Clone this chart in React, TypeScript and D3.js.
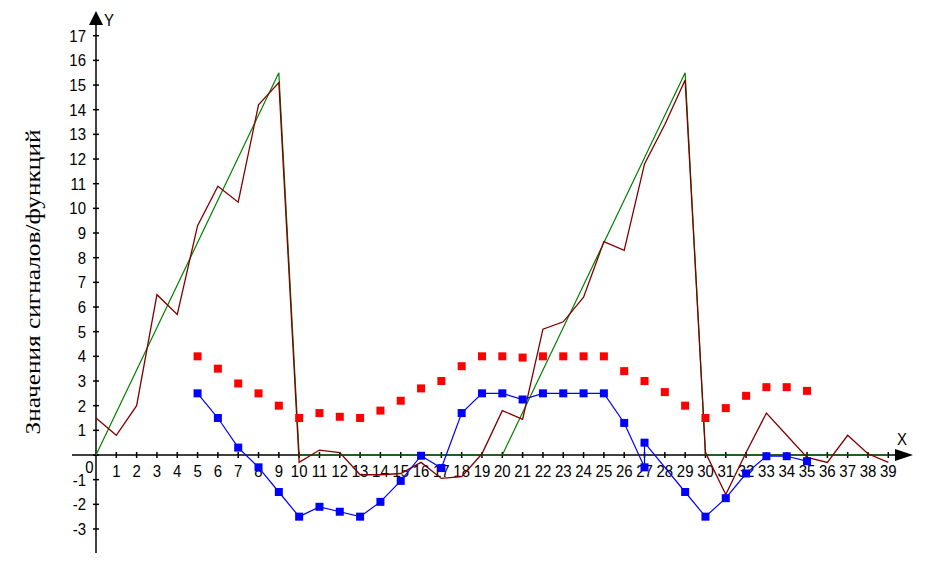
import React from "react";
import * as d3 from "d3";

const xTicks = d3.range(1, 40);
const yTicks = d3.range(-3, 18);

const greenX = [0, 9, 10, 20, 29, 30, 39];
const greenY = [0, 15.5, 0, 0, 15.5, 0, 0];

const signalX = d3.range(0, 40);
const signalY = [
  1.5, 0.8, 2.0, 6.5, 5.7, 9.3, 10.9, 10.25, 14.2, 15.1,
  -0.3, 0.2, 0.1, -0.8, -0.8, -0.75, -0.3, -0.95, -0.88, 0.05,
  1.8, 1.45, 5.1, 5.4, 6.4, 8.65, 8.3, 11.8, 13.4, 15.2,
  0.1, -1.6, 0.1, 1.7, 0.8, -0.1, -0.3, 0.8, 0.05, -0.3,
];

const redX = d3.range(5, 36);
const redY = [
  4.0, 3.5, 2.9, 2.5, 2.0, 1.5, 1.7, 1.55, 1.5, 1.8,
  2.2, 2.7, 3.0, 3.6, 4.0, 4.0, 3.95, 4.0, 4.0, 4.0,
  4.0, 3.4, 3.0, 2.55, 2.0, 1.5, 1.9, 2.4, 2.75, 2.75, 2.6,
];

const blueX = [5, 6, 7, 8, 9, 10, 11, 12, 13, 14, 15, 16, 17, 18, 19, 20, 21, 22, 23, 24, 25, 26, 27, 27, 29, 30, 31, 32, 33, 34, 35];
const blueY = [
  2.5, 1.5, 0.3, -0.5, -1.5, -2.5, -2.1, -2.3, -2.5, -1.9,
  -1.05, -0.03, -0.53, 1.7, 2.5, 2.5, 2.25, 2.5, 2.5, 2.5,
  2.5, 1.3, -0.5, 0.5, -1.5, -2.5, -1.75, -0.75, -0.05, -0.05, -0.25,
];

const W = 938;
const H = 565;

export default function App() {
  const x = d3.scaleLinear().domain([0, 39]).range([96, 888.3]);
  const y = d3.scaleLinear().domain([0, 17]).range([455, 35.7]);

  const pts = (xs: number[], ys: number[]) => xs.map((v, i) => [v, ys[i]] as [number, number]);
  const line = d3
    .line<[number, number]>()
    .x((d) => x(d[0]))
    .y((d) => y(d[1]));

  const green = pts(greenX, greenY);
  const signal = pts(signalX, signalY);
  const red = pts(redX, redY);
  const blue = pts(blueX, blueY);

  const x0 = x(0);
  const y0 = y(0);
  const sq = 8;
  const font = "'Liberation Sans', Arial, sans-serif";
  const fs = 17;
  const sx = 0.88;

  const Label = ({ px, py, anchor, children }: { px: number; py: number; anchor: string; children: React.ReactNode }) => (
    <text
      transform={`translate(${px},${py}) scale(${sx},1)`}
      textAnchor={anchor}
      fontFamily={font}
      fontSize={fs}
      fill="#000"
    >
      {children}
    </text>
  );

  return (
    <svg
      width={W}
      height={H}
      style={{ position: "absolute", left: 0, top: 0, background: "#fff" }}
    >
      <rect x={0} y={0} width={W} height={H} fill="#fff" />
      {/* axes */}
      <line x1={x0} x2={x0} y1={24} y2={553} stroke="#000" strokeWidth={1.5} />
      <line x1={72} x2={898} y1={y0} y2={y0} stroke="#000" strokeWidth={1.5} />
      <polygon points={`${x0},11 ${x0 - 7},25 ${x0 + 7},25`} fill="#000" />
      <polygon points={`913,${y0} 895,${y0 - 6} 895,${y0 + 6}`} fill="#000" />
      <Label px={104} py={26} anchor="start">Y</Label>
      <Label px={897} py={445} anchor="start">X</Label>

      {yTicks.map((t) => (
        <g key={"y" + t}>
          <line x1={x0 - 3} x2={x0 + 3} y1={y(t)} y2={y(t)} stroke="#000" strokeWidth={1.5} />
          {t !== 0 && (
            <Label px={86} py={y(t) + 6} anchor="end">{t}</Label>
          )}
        </g>
      ))}
      {xTicks.map((t) => (
        <g key={"x" + t}>
          <line x1={x(t)} x2={x(t)} y1={y0 - 3} y2={y0 + 3} stroke="#000" strokeWidth={1.5} />
          <Label px={x(t)} py={477} anchor="middle">{t}</Label>
        </g>
      ))}
      <Label px={89.5} py={473} anchor="middle">0</Label>

      <text
        transform="translate(40,282) rotate(-90)"
        textAnchor="middle"
        fontFamily="'Liberation Serif', 'Times New Roman', serif"
        fontSize={20}
        textLength={305}
        lengthAdjust="spacingAndGlyphs"
        fill="#000"
      >
        Значения сигналов/функций
      </text>

      {/* series */}
      <path d={line(green) || ""} fill="none" stroke="#008000" strokeWidth={1.2} />
      <path d={line(signal) || ""} fill="none" stroke="#800000" strokeWidth={1.3} />
      <path d={line(blue) || ""} fill="none" stroke="#0000ff" strokeWidth={1.2} />
      {blue.map((d, i) => (
        <rect key={"b" + i} x={x(d[0]) - sq / 2} y={y(d[1]) - sq / 2} width={sq} height={sq} fill="#0000ff" />
      ))}
      {red.map((d, i) => (
        <rect key={"r" + i} x={x(d[0]) - sq / 2} y={y(d[1]) - sq / 2} width={sq} height={sq} fill="#ff0000" />
      ))}
    </svg>
  );
}
